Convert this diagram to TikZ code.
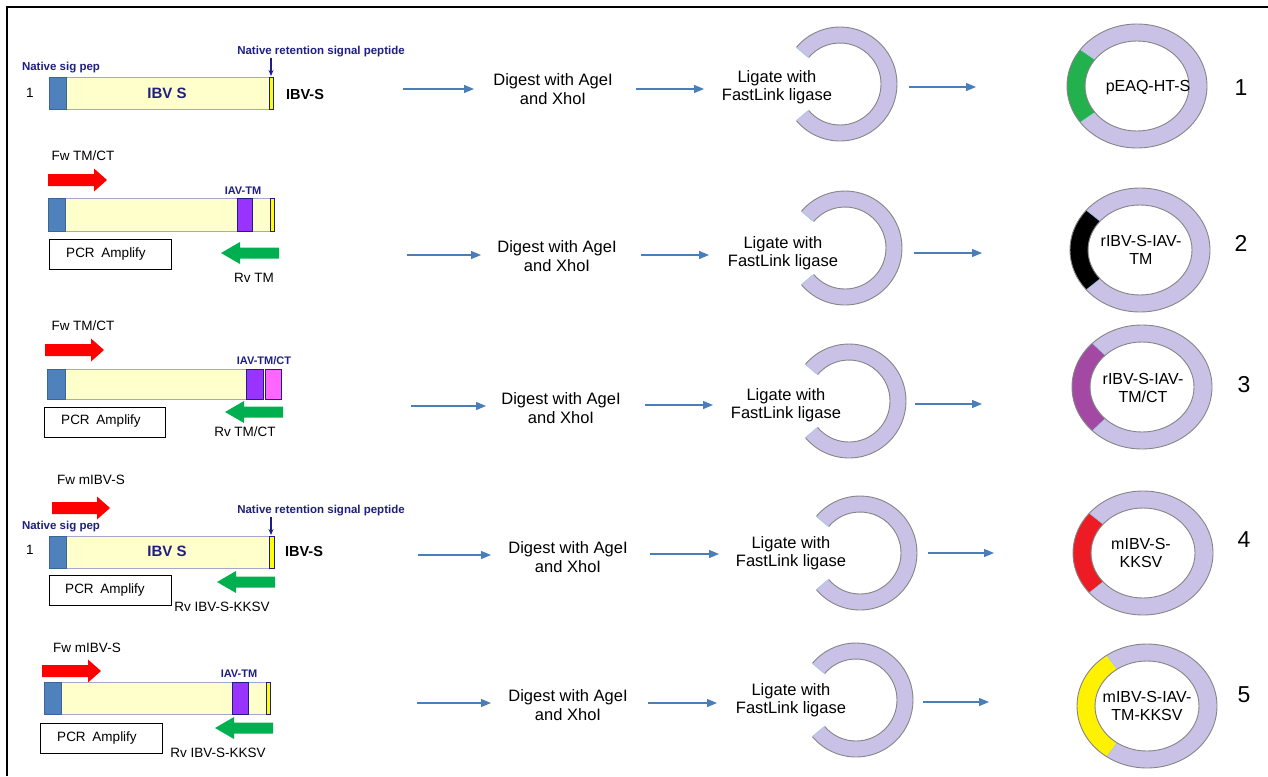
\documentclass[tikz,border=0pt]{standalone}
\usepackage{fontspec}
\setmainfont{Liberation Sans}
\usetikzlibrary{arrows.meta,calc}
\definecolor{lav}{HTML}{C9C2E6}
\definecolor{ringgray}{HTML}{858585}
\definecolor{navy}{HTML}{1F1F80}
\definecolor{sigblue}{HTML}{4F81BD}
\definecolor{sigborder}{HTML}{3A6596}
\definecolor{cream}{HTML}{FFFFCC}
\definecolor{cborder}{HTML}{A6A6CF}
\definecolor{tmpurple}{HTML}{9933FF}
\definecolor{ctpink}{HTML}{FF66FF}
\definecolor{fwred}{HTML}{FF0000}
\definecolor{rvgreen}{HTML}{00B050}
\definecolor{flowblue}{HTML}{4A7EBB}
\definecolor{seggreen}{HTML}{22B14C}
\definecolor{segpurple}{HTML}{A349A4}
\definecolor{segred}{HTML}{ED1C24}
\definecolor{segyellow}{HTML}{FFF200}
\definecolor{baryellow}{HTML}{FFFF00}
\definecolor{segedge}{HTML}{A9C8E8}

\newcommand{\FwArr}[3]{% x0 x1 yc  (points right)
  \fill[fwred] (#1,#3-6) -- (#2-13,#3-6) -- (#2-13,#3-11.5) -- (#2,#3) -- (#2-13,#3+11.5) -- (#2-13,#3+6) -- (#1,#3+6) -- cycle;}
\newcommand{\RvArr}[3]{% x0(tip) x1 yc (points left)
  \fill[rvgreen] (#2,#3-5.5) -- (#1+19,#3-5.5) -- (#1+19,#3-11) -- (#1,#3) -- (#1+19,#3+11) -- (#1+19,#3+5.5) -- (#2,#3+5.5) -- cycle;}
\newcommand{\Cring}[1]{% open circle at named coordinate
  \fill[lav] ($(#1)+(140:57pt)$) arc[start angle=140,end angle=-140,radius=57pt]
     -- ($(#1)+(-140:41pt)$) arc[start angle=-140,end angle=140,radius=41pt] -- cycle;
  \draw[ringgray,line width=0.9pt] ($(#1)+(140:57pt)$) arc[start angle=140,end angle=-140,radius=57pt];
  \draw[ringgray,line width=0.9pt] ($(#1)+(-140:41pt)$) arc[start angle=-140,end angle=140,radius=41pt];
  \draw[segedge,line width=0.8pt] ($(#1)+(140:57pt)$) -- ($(#1)+(140:41pt)$);
  \draw[segedge,line width=0.8pt] ($(#1)+(-140:57pt)$) -- ($(#1)+(-140:41pt)$);}
\newcommand{\Fring}[3]{% center, colour, half-angle
  \fill[lav,even odd rule] (#1) ellipse[x radius=70pt,y radius=62pt] (#1) ellipse[x radius=52pt,y radius=45pt];
  \fill[#2] ($(#1)+(180-#3:70pt and 62pt)$) arc[start angle=180-#3,end angle=180+#3,x radius=70pt,y radius=62pt]
     -- ($(#1)+(180+#3:52pt and 45pt)$) arc[start angle=180+#3,end angle=180-#3,x radius=52pt,y radius=45pt] -- cycle;
  \draw[segedge,line width=0.8pt] ($(#1)+(180-#3:70pt and 62pt)$) -- ($(#1)+(180-#3:52pt and 45pt)$);
  \draw[segedge,line width=0.8pt] ($(#1)+(180+#3:70pt and 62pt)$) -- ($(#1)+(180+#3:52pt and 45pt)$);
  \draw[ringgray,line width=0.9pt] (#1) ellipse[x radius=70pt,y radius=62pt] (#1) ellipse[x radius=52pt,y radius=45pt];}

\tikzset{
  txt/.style={inner sep=0pt,font=\fontsize{13.5}{15}\selectfont},
  bnavy/.style={inner sep=0pt,text=navy,font=\bfseries\fontsize{11.5}{12.5}\selectfont},
  iavlbl/.style={inner sep=0pt,text=navy,font=\bfseries\fontsize{11}{12}\selectfont},
  ibvlbl/.style={inner sep=0pt,text=navy,font=\bfseries\fontsize{15}{16}\selectfont},
  ibvs/.style={inner sep=0pt,font=\bfseries\fontsize{14.5}{16}\selectfont},
  steptxt/.style={inner sep=0pt,align=center,font=\fontsize{16.5}{18.5}\selectfont},
  ringtxt/.style={inner sep=0pt,align=center,font=\fontsize{16}{18}\selectfont},
  bignum/.style={inner sep=0pt,font=\fontsize{23}{25}\selectfont},
  flow/.style={draw=flowblue,line width=1.2pt,-{Triangle[length=10pt,width=8pt]}},
  pcrbox/.style={draw=black,line width=1pt},
  cbar/.style={fill=cream,draw=cborder,line width=1pt},
  sig/.style={fill=sigblue,draw=sigborder,line width=0.8pt},
  ybar/.style={fill=baryellow,draw=navy,line width=0.8pt},
  tm/.style={fill=tmpurple,draw=navy,line width=1pt},
  ct/.style={fill=ctpink,draw=navy,line width=1pt},
}

\begin{document}
\begin{tikzpicture}[x=1pt,y=-1pt]
\useasboundingbox (0,0) rectangle (1268,776);
\draw[line width=2pt] (7,776) -- (7,7) -- (1268,7);

% ================= Row 1 =================
\draw[cbar] (49,77) rectangle (273,109);
\draw[sig] (49,77) rectangle (66,109);
\draw[ybar] (269,77) rectangle (273,109);
\node[ibvlbl] (ibvA) at (167,93) {IBV S};
\node[ibvs] (ibvsA) at (305,95) {IBV-S};
\node[txt] (oneA) at (30,93) {1};
\node[bnavy] (sigA) at (61,68) {Native sig pep};
\node[bnavy] (retA) at (321,52) {Native retention signal peptide};
\coordinate (retAend) at (271,76);
\draw[navy,line width=1.2pt,-{Stealth[length=6pt,width=5pt]}] (retA.south -| retAend) -- (retAend);

\coordinate (a1s) at (403,89); \coordinate (a1e) at (474,89);
\draw[flow] (a1s) -- (a1e);
\node[steptxt] (dig1) at (553,89) {Digest with AgeI\\and XhoI};
\coordinate (b1s) at (636,89); \coordinate (b1e) at (704,89);
\draw[flow] (b1s) -- (b1e);
\coordinate (c1) at (840,84);
\Cring{c1}
\node[steptxt] (lig1) at (777,87) {Ligate with\\FastLink ligase};
\coordinate (d1s) at (909,87); \coordinate (d1e) at (976,87);
\draw[flow] (d1s) -- (d1e);
\coordinate (r1) at (1137,86);
\Fring{r1}{seggreen}{36}
\node[ringtxt] (lab1) at (1148,88) {pEAQ-HT-S};
\node[bignum] (num1) at (1241,88) {1};

% ================= Row 2 =================
\node[txt] (fw2) at (83,156) {Fw TM/CT};
\FwArr{48}{107}{180}
\draw[cbar] (48,198) rectangle (274,231);
\draw[sig] (48,198) rectangle (65,231);
\draw[tm] (237,198) rectangle (252,231);
\draw[ybar] (270,198) rectangle (274,231);
\node[iavlbl] (iav2) at (243,191) {IAV-TM};
\draw[pcrbox] (49,239) rectangle (171,269);
\node[txt] (pcr2) at (106,254) {PCR\hspace{0.5em}Amplify};
\RvArr{221}{279}{253}
\node[txt] (rv2) at (254,278) {Rv TM};

\coordinate (a2s) at (407,255); \coordinate (a2e) at (481,255);
\draw[flow] (a2s) -- (a2e);
\node[steptxt] (dig2) at (557,256) {Digest with AgeI\\and XhoI};
\coordinate (b2s) at (641,255); \coordinate (b2e) at (709,255);
\draw[flow] (b2s) -- (b2e);
\coordinate (c2) at (845,248);
\Cring{c2}
\node[steptxt] (lig2) at (783,253) {Ligate with\\FastLink ligase};
\coordinate (d2s) at (914,253); \coordinate (d2e) at (982,253);
\draw[flow] (d2s) -- (d2e);
\coordinate (r2) at (1140,250);
\Fring{r2}{black}{40}
\node[ringtxt] (lab2) at (1141,250) {rIBV-S-IAV-\\TM};
\node[bignum] (num2) at (1241,243) {2};

% ================= Row 3 =================
\node[txt] (fw3) at (83,326) {Fw TM/CT};
\FwArr{45}{104}{350}
\draw[cbar] (47,369) rectangle (246,399);
\draw[sig] (47,369) rectangle (65,399);
\draw[tm] (246,369) rectangle (263,399);
\draw[ct] (265,369) rectangle (281,399);
\node[iavlbl] (iav3) at (264,361) {IAV-TM/CT};
\draw[pcrbox] (44,407) rectangle (165,437);
\node[txt] (pcr3) at (101,421) {PCR\hspace{0.5em}Amplify};
\RvArr{225}{283}{412}
\node[txt] (rv3) at (245,432) {Rv TM/CT};

\coordinate (a3s) at (411,406); \coordinate (a3e) at (486,406);
\draw[flow] (a3s) -- (a3e);
\node[steptxt] (dig3) at (561,408) {Digest with AgeI\\and XhoI};
\coordinate (b3s) at (645,405); \coordinate (b3e) at (713,405);
\draw[flow] (b3s) -- (b3e);
\coordinate (c3) at (849,401);
\Cring{c3}
\node[steptxt] (lig3) at (786,405) {Ligate with\\FastLink ligase};
\coordinate (d3s) at (915,404); \coordinate (d3e) at (982,404);
\draw[flow] (d3s) -- (d3e);
\coordinate (r3) at (1142,387);
\Fring{r3}{segpurple}{45}
\node[ringtxt] (lab3) at (1143,388) {rIBV-S-IAV-\\TM/CT};
\node[bignum] (num3) at (1244,385) {3};

% ================= Row 4 =================
\node[txt] (fw4) at (91,480) {Fw mIBV-S};
\FwArr{52}{110}{508}
\draw[cbar] (49,536) rectangle (274,568);
\draw[sig] (49,536) rectangle (66,568);
\draw[ybar] (269,536) rectangle (274,568);
\node[ibvlbl] (ibvD) at (167,551) {IBV S};
\node[ibvs] (ibvsD) at (304,552) {IBV-S};
\node[txt] (oneD) at (30,550) {1};
\node[bnavy] (sigD) at (61,527) {Native sig pep};
\node[bnavy] (retD) at (321,511) {Native retention signal peptide};
\coordinate (retDend) at (271,535);
\draw[navy,line width=1.2pt,-{Stealth[length=6pt,width=5pt]}] (retD.south -| retDend) -- (retDend);
\draw[pcrbox] (49,575) rectangle (171,605);
\node[txt] (pcr4) at (105,590) {PCR\hspace{0.5em}Amplify};
\RvArr{217}{275}{582}
\node[txt] (rv4) at (222,607) {Rv IBV-S-KKSV};

\coordinate (a4s) at (418,555); \coordinate (a4e) at (491,555);
\draw[flow] (a4s) -- (a4e);
\node[steptxt] (dig4) at (568,557) {Digest with AgeI\\and XhoI};
\coordinate (b4s) at (650,554); \coordinate (b4e) at (719,554);
\draw[flow] (b4s) -- (b4e);
\coordinate (c4) at (860,553);
\Cring{c4}
\node[steptxt] (lig4) at (791,553) {Ligate with\\FastLink ligase};
\coordinate (d4s) at (928,553); \coordinate (d4e) at (994,553);
\draw[flow] (d4s) -- (d4e);
\coordinate (r4) at (1143,553);
\Fring{r4}{segred}{40}
\node[ringtxt] (lab4) at (1141,553) {mIBV-S-\\KKSV};
\node[bignum] (num4) at (1244,540) {4};

% ================= Row 5 =================
\node[txt] (fw5) at (87,648) {Fw mIBV-S};
\FwArr{42}{101}{671}
\draw[cbar] (44,682) rectangle (270,714);
\draw[sig] (44,682) rectangle (61,714);
\draw[tm] (232,682) rectangle (248,714);
\draw[ybar] (266,682) rectangle (270,714);
\node[iavlbl] (iav5) at (239,674) {IAV-TM};
\draw[pcrbox] (40,723) rectangle (162,753);
\node[txt] (pcr5) at (97,738) {PCR\hspace{0.5em}Amplify};
\RvArr{215}{273}{728}
\node[txt] (rv5) at (218,753) {Rv IBV-S-KKSV};

\coordinate (a5s) at (417,703); \coordinate (a5e) at (491,703);
\draw[flow] (a5s) -- (a5e);
\node[steptxt] (dig5) at (568,705) {Digest with AgeI\\and XhoI};
\coordinate (b5s) at (648,703); \coordinate (b5e) at (717,703);
\draw[flow] (b5s) -- (b5e);
\coordinate (c5) at (856,700);
\Cring{c5}
\node[steptxt] (lig5) at (791,700) {Ligate with\\FastLink ligase};
\coordinate (d5s) at (923,702); \coordinate (d5e) at (989,702);
\draw[flow] (d5s) -- (d5e);
\coordinate (r5) at (1147,706);
\Fring{r5}{segyellow}{55}
\node[ringtxt] (lab5) at (1147,706) {mIBV-S-IAV-\\TM-KKSV};
\node[bignum] (num5) at (1244,695) {5};
\end{tikzpicture}
\end{document}
